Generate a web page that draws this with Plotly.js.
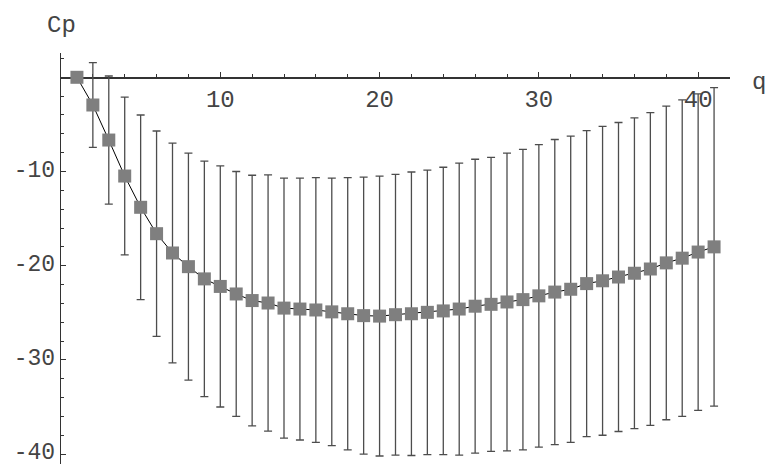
<!DOCTYPE html>
<html><head><meta charset="utf-8">
<script src="https://cdn.plot.ly/plotly-3.0.1.min.js"></script>
<style>html,body{margin:0;padding:0;background:#fff}#chart{width:770px;height:464px}</style>
</head><body><div id="chart"></div>
<script>
var q = [1,2,3,4,5,6,7,8,9,10,11,12,13,14,15,16,17,18,19,20,21,22,23,24,25,26,27,28,29,30,31,32,33,34,35,36,37,38,39,40,41];
var cp = [0,-2.94,-6.66,-10.48,-13.8,-16.6,-18.65,-20.1,-21.4,-22.2,-23.0,-23.7,-23.96,-24.5,-24.6,-24.7,-24.9,-25.1,-25.3,-25.35,-25.2,-25.1,-24.95,-24.8,-24.6,-24.3,-24.1,-23.85,-23.6,-23.2,-22.8,-22.5,-21.9,-21.6,-21.2,-20.8,-20.35,-19.7,-19.2,-18.55,-18.0];
var err = [0,4.5,6.8,8.37,9.8,10.9,11.66,12.05,12.5,12.8,13.0,13.3,13.6,13.8,13.9,14.05,14.2,14.45,14.7,14.85,14.9,15.05,15.1,15.25,15.5,15.6,15.6,15.8,15.95,16.05,16.2,16.25,16.25,16.4,16.4,16.5,16.6,16.65,16.8,16.8,16.9];
var xTickVals = [10,20,30,40];
var xTickText = ['10','20','30','40'];
var yTickVals = [-40,-30,-20,-10];
var yTickText = ['-40','-30','-20','-10'];

var yMin = -41.05, yMax = 2.58;
var font = 'Liberation Mono, Courier New, monospace';

var trace = {
  x: q, y: cp, type: 'scatter', mode: 'lines+markers',
  line: {color: '#000', width: 1},
  marker: {symbol: 'square', size: 13, color: '#7f7f7f'},
  error_y: {type: 'data', array: err, symmetric: true, color: '#4d4d4d', thickness: 1.3, width: 4},
  cliponaxis: false, hoverinfo: 'none'
};

var layout = {
  width: 770, height: 464,
  margin: {l: 61, r: 40, t: 53, b: 0},
  paper_bgcolor: '#fff', plot_bgcolor: '#fff',
  showlegend: false,
  xaxis: {
    range: [0, 42.0], anchor: 'free', position: (0 - yMin) / (yMax - yMin),
    showgrid: false, zeroline: false, showline: true, linecolor: '#333', linewidth: 1.2,
    tickmode: 'array', tickvals: xTickVals, ticktext: xTickText,
    ticks: 'inside', ticklen: 5, tickwidth: 1, tickcolor: '#333',
    minor: {tickmode: 'linear', tick0: 0, dtick: 2, ticks: 'inside', ticklen: 3, tickwidth: 1, tickcolor: '#333'},
    tickfont: {family: font, size: 24, color: '#444'},
    ticklabeloverflow: 'allow',
    layer: 'below traces', fixedrange: true
  },
  yaxis: {
    range: [yMin, yMax],
    showgrid: false, zeroline: false, showline: true, linecolor: '#333', linewidth: 1.2,
    tickmode: 'array', tickvals: yTickVals, ticktext: yTickText,
    ticks: 'inside', ticklen: 5, tickwidth: 1, tickcolor: '#333',
    minor: {tickmode: 'linear', tick0: 0, dtick: 2, ticks: 'inside', ticklen: 3, tickwidth: 1, tickcolor: '#333'},
    tickfont: {family: font, size: 23, color: '#444'},
    ticklabeloverflow: 'allow', ticklabelshift: -3,
    layer: 'below traces', fixedrange: true
  },
  annotations: [
    {text: 'Cp', xref: 'paper', yref: 'paper', x: 0, y: 1, xanchor: 'center', yanchor: 'bottom', yshift: 12, showarrow: false, font: {family: font, size: 24, color: '#444'}},
    {text: 'q', xref: 'paper', yref: 'y', x: 1.044, y: 0, xanchor: 'center', yanchor: 'middle', yshift: -5, showarrow: false, font: {family: font, size: 24, color: '#444'}}
  ]
};

Plotly.newPlot('chart', [trace], layout, {staticPlot: true, displayModeBar: false});
</script></body></html>
